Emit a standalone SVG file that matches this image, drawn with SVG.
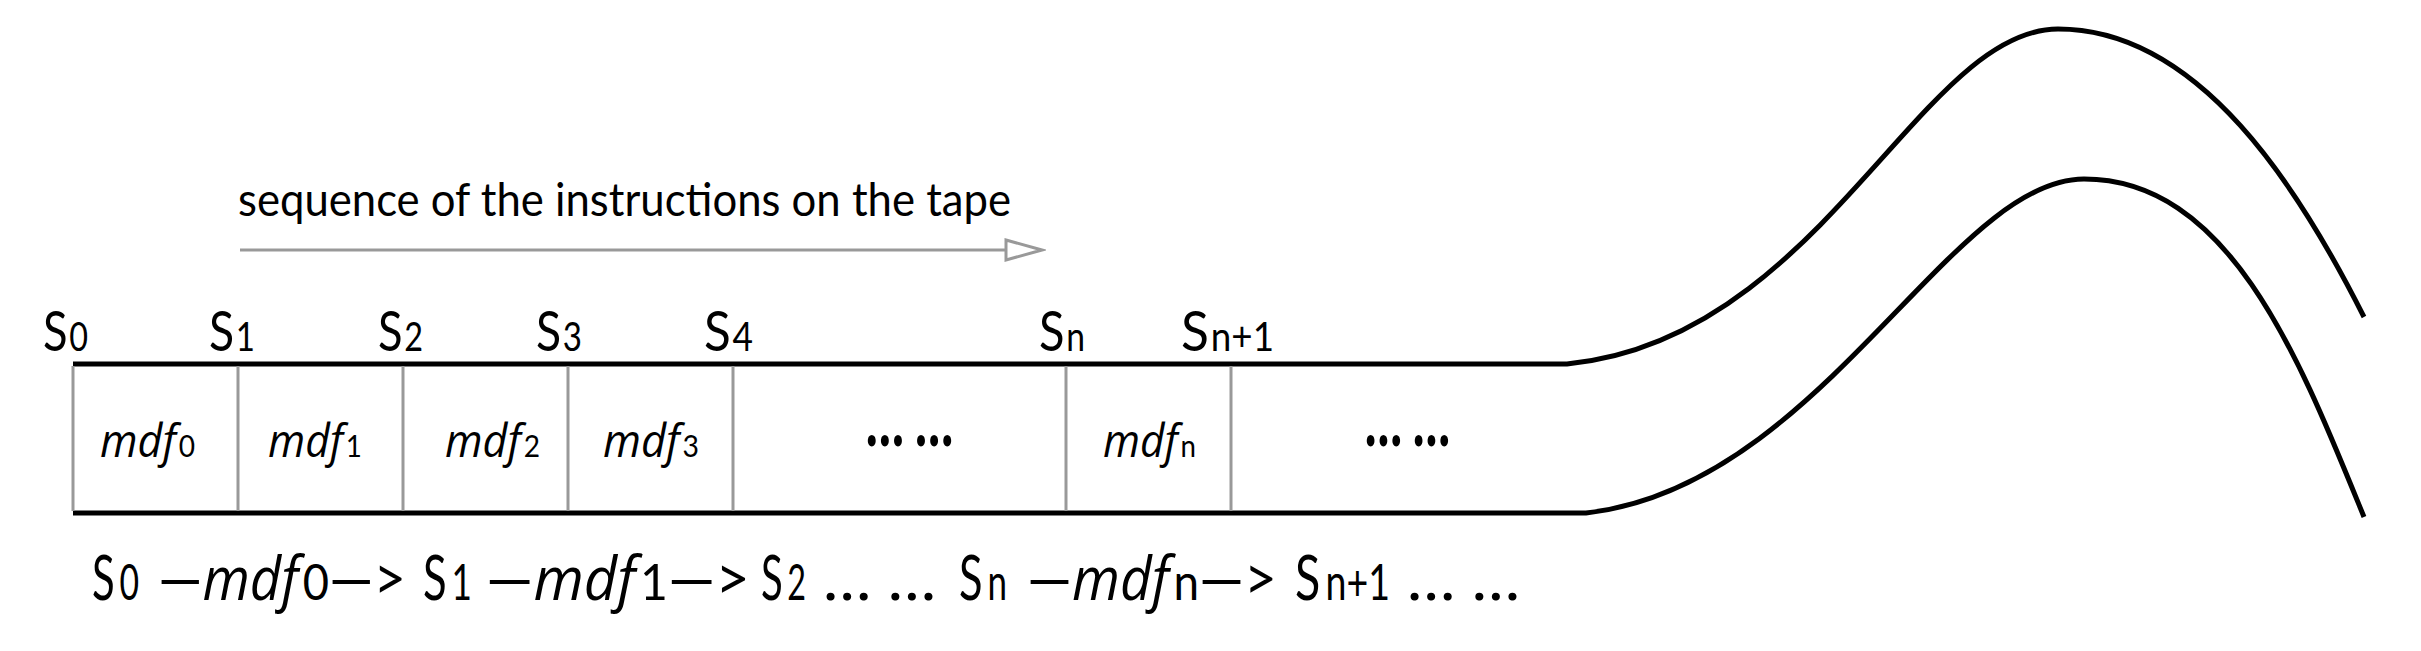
<svg xmlns="http://www.w3.org/2000/svg" width="2421" height="651" viewBox="0 0 2421 651">
<style>
text{font-family:Lato,"Liberation Sans",sans-serif;fill:#000}
.cap{font-size:46px}
.st{font-size:56px}
.st .sub{font-size:40px}
.cell{font-size:46px}
.v{font-family:"Open Sans","Noto Sans",sans-serif;font-style:italic}
.cell .sub{font-size:30px;font-style:normal}
.dots{font-size:72px;font-weight:900}
.fm{font-size:62px}
.fm .sub{font-size:50px}
.fm .v{font-size:60px}
.edge{fill:none;stroke:#000;stroke-width:5}
.div{stroke:#999;stroke-width:3}
.flow{stroke:#999;stroke-width:3;fill:none}
</style>
<defs>
<marker id="open" markerWidth="42" markerHeight="24" refX="2" refY="12" orient="auto" markerUnits="userSpaceOnUse">
<path d="M2,2 L38,12 L2,22 Z" fill="#fff" stroke="#999" stroke-width="3"/>
</marker>
</defs>

<g id="caption">
<text class="cap" x="238" y="216" textLength="773" lengthAdjust="spacingAndGlyphs">sequence of the instructions on the tape</text>
</g>

<g id="connectors">
<line class="flow" x1="240" y1="250" x2="1006" y2="250" marker-end="url(#open)"/>
</g>

<g id="tape">
<path class="edge" d="M73,364 L1567,364 C1820,340 1920,29 2058,29 C2200,29 2300,190 2364,317"/>
<path class="edge" d="M73,513 L1586,513 C1820,487 1950,179 2084,179 C2230,179 2300,360 2364,517"/>
<line class="div" x1="73" y1="366" x2="73" y2="511"/>
<line class="div" x1="238" y1="366" x2="238" y2="511"/>
<line class="div" x1="403" y1="366" x2="403" y2="511"/>
<line class="div" x1="568" y1="366" x2="568" y2="511"/>
<line class="div" x1="733" y1="366" x2="733" y2="511"/>
<line class="div" x1="1066" y1="366" x2="1066" y2="511"/>
<line class="div" x1="1231" y1="366" x2="1231" y2="511"/>
</g>

<g id="states">
<text class="st" x="43" y="351" textLength="45" lengthAdjust="spacingAndGlyphs">S<tspan class="sub" dx="2">0</tspan></text>
<text class="st" x="209" y="351" textLength="46" lengthAdjust="spacingAndGlyphs">S<tspan class="sub" dx="2">1</tspan></text>
<text class="st" x="378" y="351" textLength="45" lengthAdjust="spacingAndGlyphs">S<tspan class="sub" dx="2">2</tspan></text>
<text class="st" x="536" y="351" textLength="46" lengthAdjust="spacingAndGlyphs">S<tspan class="sub" dx="2">3</tspan></text>
<text class="st" x="704" y="351" textLength="49" lengthAdjust="spacingAndGlyphs">S<tspan class="sub" dx="2">4</tspan></text>
<text class="st" x="1039" y="351" textLength="46" lengthAdjust="spacingAndGlyphs">S<tspan class="sub" dx="2">n</tspan></text>
<text class="st" x="1181" y="351" textLength="93" lengthAdjust="spacingAndGlyphs">S<tspan class="sub" dx="2">n+1</tspan></text>
</g>

<g id="cells">
<text class="cell" x="100" y="457" textLength="95" lengthAdjust="spacingAndGlyphs"><tspan class="v">mdf</tspan><tspan class="sub" dx="3">0</tspan></text>
<text class="cell" x="268" y="457" textLength="94" lengthAdjust="spacingAndGlyphs"><tspan class="v">mdf</tspan><tspan class="sub" dx="3">1</tspan></text>
<text class="cell" x="445" y="457" textLength="95" lengthAdjust="spacingAndGlyphs"><tspan class="v">mdf</tspan><tspan class="sub" dx="3">2</tspan></text>
<text class="cell" x="603" y="457" textLength="96" lengthAdjust="spacingAndGlyphs"><tspan class="v">mdf</tspan><tspan class="sub" dx="3">3</tspan></text>
<text class="dots" x="866" y="446" textLength="87" lengthAdjust="spacingAndGlyphs">… …</text>
<text class="cell" x="1103" y="457" textLength="93" lengthAdjust="spacingAndGlyphs"><tspan class="v">mdf</tspan><tspan class="sub" dx="3">n</tspan></text>
<text class="dots" x="1365" y="446" textLength="85" lengthAdjust="spacingAndGlyphs">… …</text>
</g>

<g id="formula">
<text class="fm" x="92" y="600" textLength="47" lengthAdjust="spacingAndGlyphs">S<tspan class="sub" dx="7">0</tspan></text>
<text class="fm" x="158" y="600" textLength="248" lengthAdjust="spacingAndGlyphs">—<tspan class="v">mdf</tspan><tspan class="sub" dx="5">0</tspan>—&gt;</text>
<text class="fm" x="423" y="600" textLength="49" lengthAdjust="spacingAndGlyphs">S<tspan class="sub" dx="7">1</tspan></text>
<text class="fm" x="486" y="600" textLength="264" lengthAdjust="spacingAndGlyphs">—<tspan class="v">mdf</tspan><tspan class="sub" dx="5">1</tspan>—&gt;</text>
<text class="fm" x="761" y="600" textLength="45" lengthAdjust="spacingAndGlyphs">S<tspan class="sub" dx="7">2</tspan></text>
<text class="fm" x="823" y="600" textLength="113" lengthAdjust="spacingAndGlyphs">… …</text>
<text class="fm" x="959" y="600" textLength="48" lengthAdjust="spacingAndGlyphs">S<tspan class="sub" dx="7">n</tspan></text>
<text class="fm" x="1027" y="600" textLength="250" lengthAdjust="spacingAndGlyphs">—<tspan class="v">mdf</tspan><tspan class="sub" dx="5">n</tspan>—&gt;</text>
<text class="fm" x="1295" y="600" textLength="95" lengthAdjust="spacingAndGlyphs">S<tspan class="sub" dx="7">n+1</tspan></text>
<text class="fm" x="1407" y="600" textLength="113" lengthAdjust="spacingAndGlyphs">… …</text>
</g>
</svg>
